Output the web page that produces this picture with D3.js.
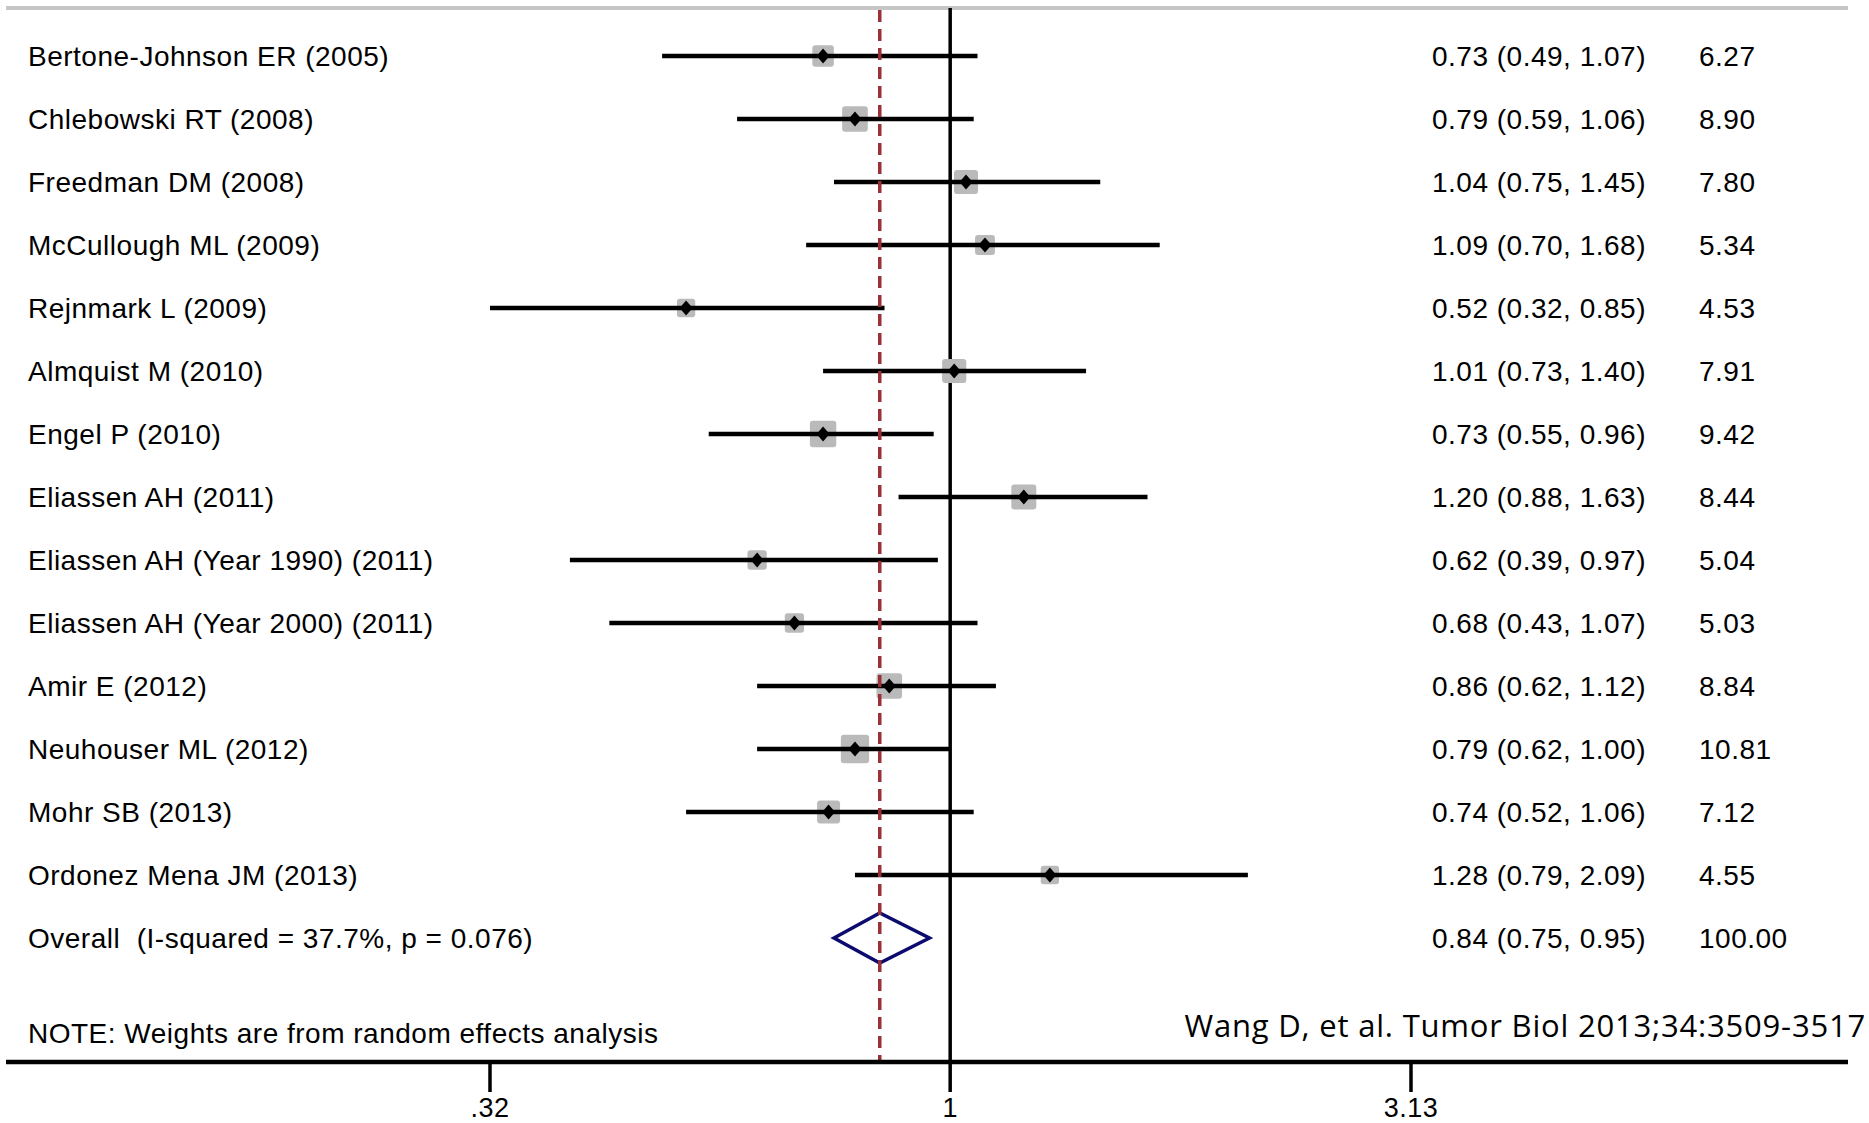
<!DOCTYPE html>
<html lang="en">
<head>
    <meta charset="utf-8">
    <title>Forest plot</title>
    <script type="text/javascript" src="https://cdnjs.cloudflare.com/ajax/libs/d3/7.8.5/d3.min.js"></script>
	<style>
	body { margin: 0; background: #fff; }
	text { font-family: "Liberation Sans", Arial, sans-serif; fill: #000; }
	.lbl { font-size: 28px; letter-spacing: 0.5px; white-space: pre; }
	.tl { font-size: 27px; letter-spacing: 0.5px; }
	.cite { font-family: "Open Sans", sans-serif; font-size: 31px; letter-spacing: 0.8px; }
	</style>
</head>
<body>
    <script type="text/javascript">
      //study labels
      var studies = ["Bertone-Johnson ER (2005)", "Chlebowski RT (2008)", "Freedman DM (2008)",
        "McCullough ML (2009)", "Rejnmark L (2009)", "Almquist M (2010)", "Engel P (2010)",
        "Eliassen AH (2011)", "Eliassen AH (Year 1990) (2011)", "Eliassen AH (Year 2000) (2011)",
        "Amir E (2012)", "Neuhouser ML (2012)", "Mohr SB (2013)", "Ordonez Mena JM (2013)"];

      //effect sizes, lower / upper CI and weights
      var es    = [0.73, 0.79, 1.04, 1.09, 0.52, 1.01, 0.73, 1.20, 0.62, 0.68, 0.86, 0.79, 0.74, 1.28];
      var lower = [0.49, 0.59, 0.75, 0.70, 0.32, 0.73, 0.55, 0.88, 0.39, 0.43, 0.62, 0.62, 0.52, 0.79];
      var upper = [1.07, 1.06, 1.45, 1.68, 0.85, 1.40, 0.96, 1.63, 0.97, 1.07, 1.12, 1.00, 1.06, 2.09];
      var weight = [6.27, 8.90, 7.80, 5.34, 4.53, 7.91, 9.42, 8.44, 5.04, 5.03, 8.84, 10.81, 7.12, 4.55];

      //pooled estimate
      var overallLabel = "Overall  (I-squared = 37.7%, p = 0.076)";
      var overall = {es: 0.84, lower: 0.75, upper: 0.95, weight: 100.00};

      //axis ticks
      var tickValues = [0.32, 1, 3.13];
      var tickLabels = [".32", "1", "3.13"];

      var width = 1869, height = 1123;

      var svg = d3.select("body").append("svg")
      .attr("width", width)
      .attr("height", height);

      //log scale for ratios
      var x = d3.scaleLog()
      .domain([0.32, 3.13])
      .range([490, 1411]);

      //row positions
      var y = d3.scaleLinear()
      .domain([0, studies.length])
      .range([56, 938]);

      var plotTop = 8, plotBottom = 1062, plotLeft = 6, plotRight = 1848;

      var fmt = d3.format(".2f");

      //top grey border
      svg.append("line")
      .attr("x1", plotLeft).attr("x2", plotRight)
      .attr("y1", plotTop).attr("y2", plotTop)
      .attr("stroke", "#c6c6c6").attr("stroke-width", 4);

      //no-effect line
      svg.append("line")
      .attr("x1", x(1)).attr("x2", x(1))
      .attr("y1", plotTop).attr("y2", plotBottom)
      .attr("stroke", "#000").attr("stroke-width", 3.5);

      var rows = studies.map(function(s, i) {
        return {label: s, es: es[i], lower: lower[i], upper: upper[i], weight: weight[i], i: i};
      });

      var row = svg.selectAll(".row")
      .data(rows)
      .enter().append("g")
      .attr("class", "row");

      //weight boxes (area ~ weight)
      row.append("rect")
      .attr("x", function(d) { return x(d.es) - 4.3 * Math.sqrt(d.weight); })
      .attr("y", function(d) { return y(d.i) - 4.3 * Math.sqrt(d.weight); })
      .attr("width", function(d) { return 8.6 * Math.sqrt(d.weight); })
      .attr("height", function(d) { return 8.6 * Math.sqrt(d.weight); })
      .attr("rx", 3)
      .attr("fill", "#bababa");

      //confidence intervals
      row.append("line")
      .attr("x1", function(d) { return x(d.lower); })
      .attr("x2", function(d) { return x(d.upper); })
      .attr("y1", function(d) { return y(d.i); })
      .attr("y2", function(d) { return y(d.i); })
      .attr("stroke", "#000").attr("stroke-width", 4.5);

      //point estimate markers
      row.append("path")
      .attr("d", function(d) {
        var cx = x(d.es), cy = y(d.i);
        return "M" + (cx - 6.5) + "," + cy + "L" + cx + "," + (cy - 7.5) + "L" + (cx + 6.5) + "," + cy + "L" + cx + "," + (cy + 7.5) + "Z";
      })
      .attr("fill", "#000");

      //overall diamond
      var oy = y(studies.length);
      svg.append("path")
      .attr("d", "M" + x(overall.lower) + "," + oy + "L" + x(overall.es) + "," + (oy - 25) +
        "L" + x(overall.upper) + "," + oy + "L" + x(overall.es) + "," + (oy + 25) + "Z")
      .attr("fill", "none")
      .attr("stroke", "#0b0b70").attr("stroke-width", 3.5);

      //pooled estimate dashed line
      svg.append("line")
      .attr("x1", x(overall.es)).attr("x2", x(overall.es))
      .attr("y1", plotTop + 2).attr("y2", plotBottom)
      .attr("stroke", "#9a3038").attr("stroke-width", 3.5)
      .attr("stroke-dasharray", "12,7");

      //left labels
      var labels = studies.concat([overallLabel]);
      svg.selectAll(".name")
      .data(labels)
      .enter().append("text")
      .attr("class", "lbl")
      .attr("x", 28)
      .attr("y", function(d, i) { return y(i) + 10; })
      .text(function(d) { return d; });

      //ES (95% CI) column
      var ciText = rows.map(function(d) { return fmt(d.es) + " (" + fmt(d.lower) + ", " + fmt(d.upper) + ")"; })
      .concat([fmt(overall.es) + " (" + fmt(overall.lower) + ", " + fmt(overall.upper) + ")"]);
      svg.selectAll(".ci")
      .data(ciText)
      .enter().append("text")
      .attr("class", "lbl")
      .attr("x", 1432)
      .attr("y", function(d, i) { return y(i) + 10; })
      .text(function(d) { return d; });

      //weight column
      var wText = weight.map(fmt).concat([fmt(overall.weight)]);
      svg.selectAll(".wt")
      .data(wText)
      .enter().append("text")
      .attr("class", "lbl")
      .attr("x", 1699)
      .attr("y", function(d, i) { return y(i) + 10; })
      .text(function(d) { return d; });

      //note and citation
      svg.append("text")
      .attr("class", "lbl")
      .attr("x", 28).attr("y", 1043)
      .text("NOTE: Weights are from random effects analysis");

      svg.append("text")
      .attr("class", "cite")
      .attr("x", 1866).attr("y", 1037)
      .attr("text-anchor", "end")
      .text("Wang D, et al. Tumor Biol 2013;34:3509-3517");

      //x axis
      var axis = svg.append("g")
      .attr("transform", "translate(0," + plotBottom + ")");

      axis.append("line")
      .attr("x1", plotLeft).attr("x2", plotRight)
      .attr("stroke", "#000").attr("stroke-width", 4.5);

      axis.selectAll(".tick")
      .data(tickValues)
      .enter().append("line")
      .attr("x1", function(d) { return x(d); })
      .attr("x2", function(d) { return x(d); })
      .attr("y1", 0).attr("y2", 30)
      .attr("stroke", "#000").attr("stroke-width", 3.5);

      axis.selectAll(".tlabel")
      .data(tickValues)
      .enter().append("text")
      .attr("class", "tl")
      .attr("x", function(d) { return x(d); })
      .attr("y", 55)
      .attr("text-anchor", "middle")
      .text(function(d, i) { return tickLabels[i]; });
    </script>
</body>
</html>
